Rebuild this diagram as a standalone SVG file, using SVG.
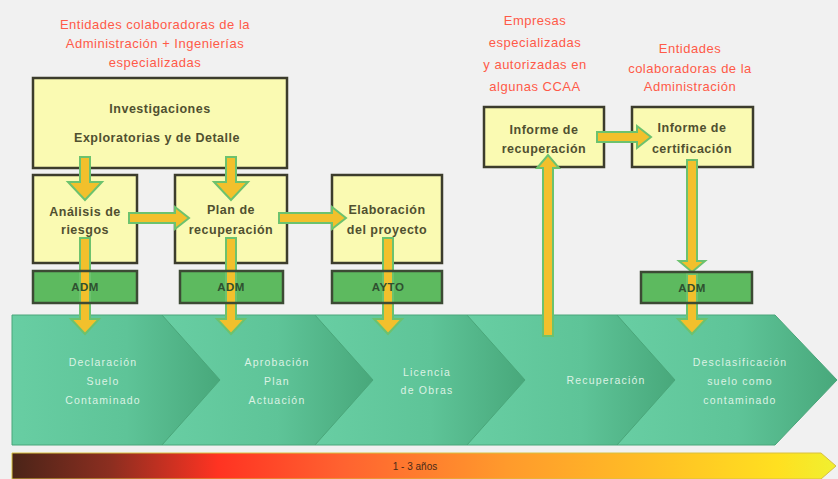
<svg xmlns="http://www.w3.org/2000/svg" width="838" height="479" viewBox="0 0 838 479">
<defs>
<linearGradient id="chev" x1="0" y1="0" x2="1" y2="0">
<stop offset="0" stop-color="#68cea3"/>
<stop offset="0.55" stop-color="#5ec498"/>
<stop offset="1" stop-color="#48a87b"/>
</linearGradient>
<linearGradient id="time" x1="12" y1="0" x2="836" y2="0" gradientUnits="userSpaceOnUse">
<stop offset="0" stop-color="#4a2418"/>
<stop offset="0.12" stop-color="#8c2e20"/>
<stop offset="0.25" stop-color="#ff3322"/>
<stop offset="0.4" stop-color="#ff6230"/>
<stop offset="0.6" stop-color="#ff9a2c"/>
<stop offset="0.8" stop-color="#ffc424"/>
<stop offset="0.93" stop-color="#ffe020"/>
<stop offset="1" stop-color="#f0f030"/>
</linearGradient>
</defs>
<style>
.t{font-family:"Liberation Sans",Arial,sans-serif;text-anchor:middle}
.red{fill:#ff5a48;font-size:13px;letter-spacing:0.5px}
.yb{fill:#fafab2;stroke:#3c3c2c;stroke-width:2.5}
.yt{fill:#505030;font-size:12.5px;font-weight:bold;letter-spacing:0.5px}
.gb{fill:#5dba5f}
.gs{fill:none;stroke:#3c4a34;stroke-width:2.5}
.gt{fill:#2f5030;font-size:11.5px;font-weight:bold;letter-spacing:0.5px}
.arr{fill:#f2c02c;stroke:#6cc26e;stroke-width:2;stroke-linejoin:miter}
.ch{fill:url(#chev);stroke:#4aa67a;stroke-width:1}
.ct{fill:#dcf2e4;font-size:10.5px;letter-spacing:1.2px}
</style>
<rect x="0" y="0" width="838" height="479" fill="#f1f1f1"/>

<g id="label-left">
<text class="t red" x="155" y="29">Entidades colaboradoras de la</text>
<text class="t red" x="155" y="48">Administración + Ingenierías</text>
<text class="t red" x="155" y="67">especializadas</text>
</g>
<g id="label-mid">
<text class="t red" x="535" y="25">Empresas</text>
<text class="t red" x="535" y="47">especializadas</text>
<text class="t red" x="535" y="69">y autorizadas en</text>
<text class="t red" x="535" y="91">algunas CCAA</text>
</g>
<g id="label-right">
<text class="t red" x="690" y="53">Entidades</text>
<text class="t red" x="690" y="73">colaboradoras de la</text>
<text class="t red" x="690" y="91">Administración</text>
</g>

<g id="timeline-band">
<polygon class="ch" points="617,315 775,315 837,380 775,445 617,445"/>
<polygon class="ch" points="467,315 617,315 675,380 617,445 467,445"/>
<polygon class="ch" points="315,315 467,315 525,380 467,445 315,445"/>
<polygon class="ch" points="162,315 315,315 373,380 315,445 162,445"/>
<polygon class="ch" points="12,315 162,315 220,380 162,445 12,445"/>
</g>
<g id="stage-1">
<text class="t ct" x="103" y="366">Declaración</text>
<text class="t ct" x="103" y="385">Suelo</text>
<text class="t ct" x="103" y="404">Contaminado</text>
</g>
<g id="stage-2">
<text class="t ct" x="277" y="366">Aprobación</text>
<text class="t ct" x="277" y="385">Plan</text>
<text class="t ct" x="277" y="404">Actuación</text>
</g>
<g id="stage-3">
<text class="t ct" x="427" y="376">Licencia</text>
<text class="t ct" x="427" y="394">de Obras</text>
</g>
<g id="stage-4">
<text class="t ct" x="606" y="384">Recuperación</text>
</g>
<g id="stage-5">
<text class="t ct" x="740" y="366">Desclasificación</text>
<text class="t ct" x="740" y="385">suelo como</text>
<text class="t ct" x="740" y="404">contaminado</text>
</g>

<g id="duration">
<path d="M12,453 H821 L836,466 L821,479 H12 Z" fill="url(#time)" stroke="#d8c040" stroke-width="1"/>
<text class="t" x="415" y="470" font-size="10" fill="#4a2a18">1 - 3 años</text>
</g>

<g id="investigaciones">
<rect class="yb" x="33" y="78" width="254" height="90"/>
<text class="t yt" x="160" y="113">Investigaciones</text>
<text class="t yt" x="157" y="142">Exploratorias y de Detalle</text>
</g>
<g id="analisis">
<rect class="yb" x="33" y="175" width="104" height="88"/>
<text class="t yt" x="85" y="216">Análisis de</text>
<text class="t yt" x="85" y="234">riesgos</text>
</g>
<g id="plan">
<rect class="yb" x="175" y="175" width="112" height="88"/>
<text class="t yt" x="231" y="214">Plan de</text>
<text class="t yt" x="231" y="234">recuperación</text>
</g>
<g id="elaboracion">
<rect class="yb" x="332" y="175" width="110" height="88"/>
<text class="t yt" x="387" y="214">Elaboración</text>
<text class="t yt" x="387" y="234">del proyecto</text>
</g>
<g id="informe-recuperacion">
<rect class="yb" x="484" y="107" width="120" height="60"/>
<text class="t yt" x="544" y="134">Informe de</text>
<text class="t yt" x="544" y="153">recuperación</text>
</g>
<g id="informe-certificacion">
<rect class="yb" x="632" y="107" width="121" height="60"/>
<text class="t yt" x="692" y="132">Informe de</text>
<text class="t yt" x="692" y="153">certificación</text>
</g>

<g id="connectors">
<path class="arr" d="M80,157 H90 V182 H102 L85,200 L68,182 H80 Z"/>
<path class="arr" d="M226,157 H236 V182 H248 L231,200 L214,182 H226 Z"/>
<path class="arr" d="M129,213 H175 V207 L189,218 L175,229 V223 H129 Z"/>
<path class="arr" d="M279,213 H332 V207 L346,218 L332,229 V223 H279 Z"/>
<path class="arr" d="M597,132 H637 V126 L651,137 L637,148 V142 H597 Z"/>
<path class="arr" d="M80,238 H90 V319 H99 L85,334 L71,319 H80 Z"/>
<path class="arr" d="M226,238 H236 V319 H245 L231,334 L217,319 H226 Z"/>
<path class="arr" d="M383,238 H393 V319 H402 L388,334 L374,319 H383 Z"/>
<path class="arr" d="M543,336 V168 H537 L548,155 L559,168 H553 V336 Z"/>
<path class="arr" d="M687,160 H697 V261 H705 L692,272 L679,261 H687 Z"/>
<path class="arr" d="M687,274 H697 V319 H706 L692,334 L678,319 H687 Z"/>
</g>

<g id="adm-1">
<path class="gb" fill-rule="evenodd" d="M33,271 H137 V303 H33 Z M79,271 V303 H91 V271 Z"/>
<rect class="gs" x="33" y="271" width="104" height="32"/>
<text class="t gt" x="85" y="291">ADM</text>
</g>
<g id="adm-2">
<path class="gb" fill-rule="evenodd" d="M180,271 H283 V303 H180 Z M225,271 V303 H237 V271 Z"/>
<rect class="gs" x="180" y="271" width="103" height="32"/>
<text class="t gt" x="231" y="291">ADM</text>
</g>
<g id="ayto">
<path class="gb" fill-rule="evenodd" d="M332,271 H442 V303 H332 Z M382,271 V303 H394 V271 Z"/>
<rect class="gs" x="332" y="271" width="110" height="32"/>
<text class="t gt" x="388" y="291">AYTO</text>
</g>
<g id="adm-3">
<path class="gb" fill-rule="evenodd" d="M641,272 H752 V303 H641 Z M686,272 V303 H698 V272 Z"/>
<rect class="gs" x="641" y="272" width="111" height="31"/>
<text class="t gt" x="692" y="292">ADM</text>
</g>
</svg>
